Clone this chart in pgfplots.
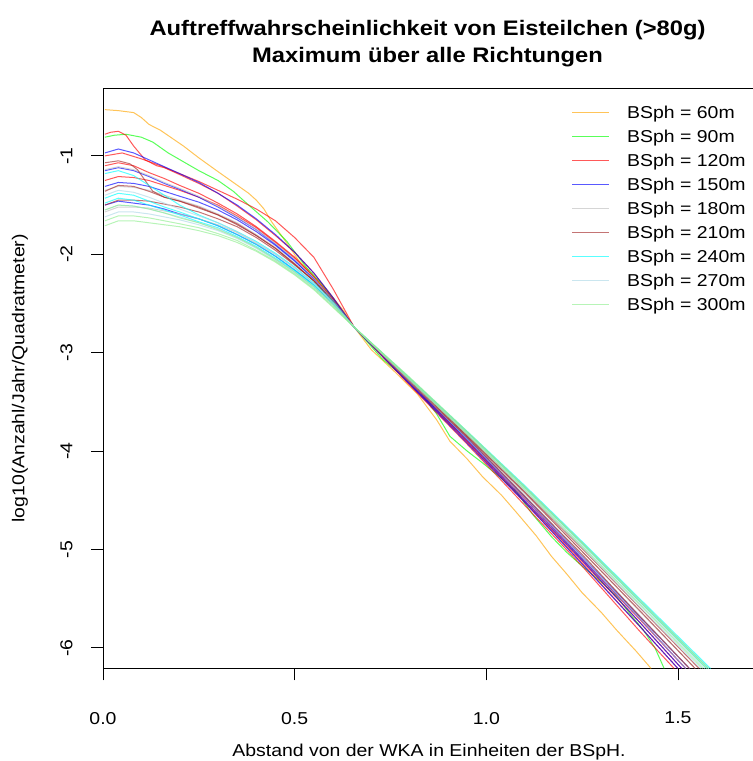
\documentclass[border=0pt]{standalone}
\usepackage{fontspec}
\setmainfont{Liberation Sans}[FakeStretch=1.13]
\usepackage{pgfplots}
\pgfplotsset{compat=1.18}

\definecolor{cOrange}{HTML}{FFA500}
\definecolor{cGreen}{HTML}{00FF00}
\definecolor{cRed}{HTML}{FF0000}
\definecolor{cBlue}{HTML}{0000FF}
\definecolor{cGray}{HTML}{BEBEBE}
\definecolor{cBrown}{HTML}{A52A2A}
\definecolor{cCyan}{HTML}{00FFFF}
\definecolor{cLBlue}{HTML}{ADD8E6}
\definecolor{cLGreen}{HTML}{90EE90}

\newcommand{\rfont}{\fontsize{17.2}{20}\selectfont}

\begin{document}
\begin{tikzpicture}
\begin{axis}[
  name=ax,
  scale only axis,
  width=652pt, height=580.5pt,
  xmin=0, xmax=1.701, ymin=-6.21, ymax=-0.31,
  axis line style={black, line width=0.8pt},
  xtick align=outside, ytick align=outside,
  major tick length=12pt,
  every tick/.style={draw=black, line width=0.8pt},
  xtick pos=bottom, ytick pos=left,
  xtick={0,0.5,1,1.5}, xticklabels={0.0,0.5,1.0,1.5},
  ytick={-6,-5,-4,-3,-2,-1}, yticklabels={-6,-5,-4,-3,-2,-1},
  tick label style={font=\rfont},
  xticklabel shift={28pt},
  yticklabel shift={15pt},
  yticklabel style={rotate=90, anchor=south},
  label style={font=\rfont},
  xlabel={Abstand von der WKA in Einheiten der BSpH.},
  ylabel={log10(Anzahl/Jahr/Quadratmeter)},
  xlabel style={at={(axis description cs:0.5,-0.1446)}, anchor=center},
  ylabel style={at={(axis description cs:-0.1273,0.5)}, anchor=center},
  legend cell align=left,
  legend style={draw=none, fill=none, inner sep=0pt, row sep=0pt,
    at={(axis description cs:0.7186,0.9793)}, anchor=north west,
    font=\rfont, nodes={inner sep=0pt, text height=18pt, text depth=6pt}},
  legend image code/.code={\draw[#1] (0pt,0pt) -- (36.5pt,0pt); \path (54.5pt,0pt);},
  every axis plot/.append style={no markers, line width=1pt, draw opacity=0.65},
]

% BSph = 60m
\addplot[cOrange] coordinates {(0.005,-0.53)(0.04,-0.54)(0.08,-0.56)(0.10,-0.61)(0.12,-0.68)(0.15,-0.74)(0.18,-0.82)(0.21,-0.90)(0.25,-1.02)(0.3,-1.16)(0.34,-1.27)(0.38,-1.38)(0.40,-1.45)(0.42,-1.54)(0.44,-1.67)(0.48,-1.89)(0.51,-2.06)(0.545,-2.20)(0.575,-2.33)(0.60,-2.44)(0.627,-2.57)(0.655,-2.74)(0.70,-2.97)(0.76,-3.19)(0.82,-3.42)(0.87,-3.68)(0.905,-3.90)(0.95,-4.08)(0.99,-4.26)(1.04,-4.45)(1.08,-4.63)(1.13,-4.86)(1.17,-5.07)(1.21,-5.25)(1.25,-5.44)(1.30,-5.64)(1.34,-5.82)(1.39,-6.03)(1.43,-6.21)};
\addlegendentry{BSph = 60m}

% BSph = 90m
\addplot[cGreen] coordinates {(0.005,-0.81)(0.03,-0.79)(0.06,-0.78)(0.10,-0.81)(0.13,-0.86)(0.17,-0.97)(0.21,-1.06)(0.25,-1.15)(0.30,-1.25)(0.34,-1.36)(0.38,-1.50)(0.43,-1.67)(0.48,-1.87)(0.53,-2.13)(0.57,-2.30)(0.61,-2.50)(0.655,-2.74)(0.73,-3.07)(0.82,-3.36)(0.87,-3.62)(0.905,-3.85)(0.95,-4.00)(0.99,-4.12)(1.04,-4.28)(1.08,-4.42)(1.12,-4.64)(1.17,-4.87)(1.21,-5.03)(1.25,-5.17)(1.30,-5.33)(1.34,-5.48)(1.38,-5.68)(1.41,-5.82)(1.44,-6.00)(1.464,-6.21)};
\addlegendentry{BSph = 90m}

% BSph = 120m
\addplot[cRed] coordinates {(0.005,-0.78)(0.02,-0.76)(0.04,-0.75)(0.06,-0.79)(0.08,-0.90)(0.11,-1.04)(0.14,-1.10)(0.16,-1.12)(0.2,-1.19)(0.25,-1.28)(0.3,-1.38)(0.35,-1.51)(0.4,-1.65)(0.45,-1.81)(0.5,-1.98)(0.55,-2.19)(0.6,-2.44)(0.655,-2.74)(0.8,-3.33)(0.95,-3.93)(1.1,-4.55)(1.25,-5.17)(1.4,-5.83)(1.49,-6.21)};
\addlegendentry{BSph = 120m}
\addplot[cRed, forget plot] coordinates {(0.005,-1.00)(0.05,-0.97)(0.1,-1.03)(0.15,-1.10)(0.2,-1.18)(0.25,-1.26)(0.3,-1.35)(0.35,-1.44)(0.4,-1.54)(0.45,-1.66)(0.5,-1.83)(0.55,-2.03)(0.6,-2.35)(0.627,-2.54)(0.655,-2.74)(0.8,-3.32)(0.95,-3.91)(1.1,-4.52)(1.25,-5.14)(1.4,-5.78)(1.50,-6.21)};
\addplot[cRed, forget plot] coordinates {(0.005,-1.10)(0.04,-1.07)(0.08,-1.10)(0.12,-1.17)(0.16,-1.23)(0.2,-1.30)(0.25,-1.38)(0.3,-1.48)(0.35,-1.59)(0.4,-1.72)(0.45,-1.87)(0.5,-2.03)(0.55,-2.23)(0.6,-2.46)(0.655,-2.74)(0.8,-3.31)(0.95,-3.90)(1.1,-4.51)(1.25,-5.12)(1.4,-5.74)(1.51,-6.21)};
\addplot[cRed, forget plot] coordinates {(0.005,-1.25)(0.04,-1.21)(0.08,-1.22)(0.12,-1.25)(0.16,-1.30)(0.2,-1.35)(0.25,-1.42)(0.3,-1.50)(0.35,-1.61)(0.4,-1.73)(0.45,-1.88)(0.5,-2.04)(0.55,-2.23)(0.6,-2.46)(0.655,-2.74)(0.8,-3.30)(0.95,-3.89)(1.1,-4.48)(1.25,-5.10)(1.4,-5.71)(1.52,-6.21)};

% BSph = 150m
\addplot[cBlue] coordinates {(0.005,-0.97)(0.04,-0.93)(0.08,-0.97)(0.12,-1.04)(0.16,-1.11)(0.2,-1.18)(0.25,-1.27)(0.3,-1.38)(0.35,-1.50)(0.4,-1.64)(0.45,-1.80)(0.5,-1.98)(0.55,-2.19)(0.6,-2.44)(0.655,-2.74)(0.8,-3.32)(0.95,-3.92)(1.1,-4.52)(1.25,-5.15)(1.4,-5.78)(1.50,-6.21)};
\addlegendentry{BSph = 150m}
\addplot[cBlue, forget plot] coordinates {(0.005,-1.15)(0.04,-1.12)(0.08,-1.15)(0.12,-1.21)(0.16,-1.28)(0.2,-1.34)(0.25,-1.42)(0.3,-1.52)(0.35,-1.63)(0.4,-1.75)(0.45,-1.90)(0.5,-2.06)(0.55,-2.25)(0.6,-2.47)(0.655,-2.74)(0.8,-3.31)(0.95,-3.89)(1.1,-4.50)(1.25,-5.11)(1.4,-5.74)(1.51,-6.21)};
\addplot[cBlue, forget plot] coordinates {(0.005,-1.31)(0.04,-1.27)(0.08,-1.28)(0.12,-1.31)(0.16,-1.36)(0.2,-1.41)(0.25,-1.47)(0.3,-1.55)(0.35,-1.65)(0.4,-1.77)(0.45,-1.91)(0.5,-2.07)(0.55,-2.25)(0.6,-2.47)(0.655,-2.74)(0.8,-3.30)(0.95,-3.88)(1.1,-4.47)(1.25,-5.09)(1.4,-5.70)(1.52,-6.21)};
\addplot[cBlue, forget plot] coordinates {(0.005,-1.50)(0.04,-1.46)(0.08,-1.48)(0.12,-1.50)(0.16,-1.54)(0.2,-1.59)(0.25,-1.64)(0.3,-1.71)(0.35,-1.80)(0.4,-1.90)(0.45,-2.02)(0.5,-2.16)(0.55,-2.31)(0.6,-2.50)(0.655,-2.74)(0.8,-3.30)(0.95,-3.87)(1.1,-4.46)(1.25,-5.07)(1.4,-5.68)(1.53,-6.21)};

% BSph = 180m
\addplot[cGray] coordinates {(0.005,-1.14)(0.04,-1.11)(0.08,-1.14)(0.12,-1.20)(0.16,-1.27)(0.2,-1.33)(0.25,-1.41)(0.3,-1.51)(0.35,-1.62)(0.4,-1.75)(0.45,-1.89)(0.5,-2.05)(0.55,-2.24)(0.6,-2.47)(0.655,-2.74)(0.8,-3.29)(0.95,-3.88)(1.1,-4.47)(1.25,-5.08)(1.4,-5.70)(1.52,-6.21)};
\addlegendentry{BSph = 180m}
\addplot[cGray, forget plot] coordinates {(0.005,-1.35)(0.04,-1.31)(0.08,-1.32)(0.12,-1.35)(0.16,-1.40)(0.2,-1.45)(0.25,-1.51)(0.3,-1.59)(0.35,-1.68)(0.4,-1.80)(0.45,-1.93)(0.5,-2.09)(0.55,-2.26)(0.6,-2.48)(0.655,-2.74)(0.8,-3.30)(0.95,-3.86)(1.1,-4.45)(1.25,-5.06)(1.4,-5.67)(1.53,-6.21)};
\addplot[cGray, forget plot] coordinates {(0.005,-1.57)(0.04,-1.52)(0.08,-1.52)(0.12,-1.53)(0.16,-1.56)(0.2,-1.59)(0.25,-1.64)(0.3,-1.70)(0.35,-1.78)(0.4,-1.89)(0.45,-2.00)(0.5,-2.14)(0.55,-2.30)(0.6,-2.49)(0.655,-2.74)(0.8,-3.29)(0.95,-3.85)(1.1,-4.43)(1.25,-5.02)(1.4,-5.63)(1.545,-6.21)};

% BSph = 210m
\addplot[cBrown] coordinates {(0.005,-1.07)(0.04,-1.05)(0.07,-1.08)(0.09,-1.14)(0.11,-1.25)(0.13,-1.36)(0.16,-1.42)(0.2,-1.46)(0.25,-1.52)(0.3,-1.60)(0.35,-1.70)(0.4,-1.81)(0.45,-1.94)(0.5,-2.10)(0.55,-2.27)(0.6,-2.48)(0.655,-2.74)(0.8,-3.30)(0.95,-3.86)(1.1,-4.46)(1.25,-5.05)(1.4,-5.68)(1.53,-6.21)};
\addlegendentry{BSph = 210m}
\addplot[cBrown, forget plot] coordinates {(0.005,-1.36)(0.04,-1.30)(0.08,-1.31)(0.12,-1.36)(0.16,-1.42)(0.2,-1.46)(0.25,-1.53)(0.3,-1.60)(0.35,-1.69)(0.4,-1.81)(0.45,-1.94)(0.5,-2.10)(0.55,-2.27)(0.6,-2.48)(0.655,-2.74)(0.8,-3.28)(0.95,-3.85)(1.1,-4.42)(1.25,-5.02)(1.4,-5.62)(1.545,-6.21)};
\addplot[cBrown, forget plot] coordinates {(0.005,-1.50)(0.04,-1.45)(0.08,-1.45)(0.12,-1.46)(0.16,-1.49)(0.2,-1.52)(0.25,-1.57)(0.3,-1.64)(0.35,-1.72)(0.4,-1.83)(0.45,-1.96)(0.5,-2.11)(0.55,-2.27)(0.6,-2.48)(0.655,-2.74)(0.8,-3.28)(0.95,-3.84)(1.1,-4.41)(1.25,-4.99)(1.4,-5.59)(1.555,-6.21)};

% BSph = 240m
\addplot[cCyan] coordinates {(0.005,-1.18)(0.04,-1.15)(0.08,-1.20)(0.12,-1.30)(0.16,-1.40)(0.2,-1.50)(0.25,-1.60)(0.3,-1.68)(0.35,-1.77)(0.4,-1.87)(0.45,-1.99)(0.5,-2.13)(0.55,-2.29)(0.6,-2.48)(0.655,-2.74)(0.8,-3.27)(0.95,-3.81)(1.1,-4.37)(1.25,-4.94)(1.4,-5.53)(1.575,-6.21)};
\addlegendentry{BSph = 240m}
\addplot[cCyan, forget plot] coordinates {(0.005,-1.43)(0.04,-1.38)(0.08,-1.40)(0.12,-1.46)(0.16,-1.52)(0.2,-1.57)(0.25,-1.64)(0.3,-1.71)(0.35,-1.80)(0.4,-1.90)(0.45,-2.02)(0.5,-2.16)(0.55,-2.31)(0.6,-2.50)(0.655,-2.74)(0.8,-3.26)(0.95,-3.81)(1.1,-4.36)(1.25,-4.93)(1.4,-5.52)(1.58,-6.21)};
\addplot[cCyan, forget plot] coordinates {(0.005,-1.48)(0.04,-1.43)(0.08,-1.45)(0.12,-1.50)(0.16,-1.55)(0.2,-1.60)(0.25,-1.67)(0.3,-1.73)(0.35,-1.82)(0.4,-1.92)(0.45,-2.04)(0.5,-2.17)(0.55,-2.32)(0.6,-2.51)(0.655,-2.74)(0.8,-3.26)(0.95,-3.80)(1.1,-4.35)(1.25,-4.92)(1.4,-5.50)(1.585,-6.21)};

% BSph = 270m
\addplot[cLBlue] coordinates {(0.005,-1.40)(0.04,-1.35)(0.08,-1.37)(0.12,-1.42)(0.16,-1.48)(0.2,-1.54)(0.25,-1.61)(0.3,-1.68)(0.35,-1.77)(0.4,-1.88)(0.45,-2.00)(0.5,-2.14)(0.55,-2.30)(0.6,-2.49)(0.655,-2.74)(0.8,-3.28)(0.95,-3.83)(1.1,-4.40)(1.25,-4.98)(1.4,-5.58)(1.56,-6.21)};
\addlegendentry{BSph = 270m}
\addplot[cLBlue, forget plot] coordinates {(0.005,-1.55)(0.04,-1.50)(0.08,-1.51)(0.12,-1.54)(0.16,-1.58)(0.2,-1.62)(0.25,-1.68)(0.3,-1.74)(0.35,-1.83)(0.4,-1.93)(0.45,-2.05)(0.5,-2.18)(0.55,-2.33)(0.6,-2.51)(0.655,-2.74)(0.8,-3.27)(0.95,-3.82)(1.1,-4.38)(1.25,-4.96)(1.4,-5.55)(1.57,-6.21)};
\addplot[cLBlue, forget plot] coordinates {(0.005,-1.62)(0.04,-1.57)(0.08,-1.57)(0.12,-1.59)(0.16,-1.62)(0.2,-1.65)(0.25,-1.70)(0.3,-1.76)(0.35,-1.84)(0.4,-1.94)(0.45,-2.06)(0.5,-2.19)(0.55,-2.34)(0.6,-2.52)(0.655,-2.74)(0.8,-3.26)(0.95,-3.81)(1.1,-4.36)(1.25,-4.93)(1.4,-5.52)(1.58,-6.21)};

% BSph = 300m
\addplot[cLGreen] coordinates {(0.005,-1.55)(0.04,-1.50)(0.08,-1.51)(0.12,-1.54)(0.16,-1.58)(0.2,-1.63)(0.25,-1.68)(0.3,-1.75)(0.35,-1.83)(0.4,-1.93)(0.45,-2.05)(0.5,-2.18)(0.55,-2.33)(0.6,-2.51)(0.655,-2.74)(0.8,-3.27)(0.95,-3.83)(1.1,-4.39)(1.25,-4.97)(1.4,-5.56)(1.565,-6.21)};
\addlegendentry{BSph = 300m}
\addplot[cLGreen, forget plot] coordinates {(0.005,-1.66)(0.04,-1.61)(0.08,-1.61)(0.12,-1.63)(0.16,-1.66)(0.2,-1.69)(0.25,-1.73)(0.3,-1.79)(0.35,-1.86)(0.4,-1.96)(0.45,-2.07)(0.5,-2.20)(0.55,-2.35)(0.6,-2.53)(0.655,-2.74)(0.8,-3.26)(0.95,-3.81)(1.1,-4.37)(1.25,-4.94)(1.4,-5.53)(1.575,-6.21)};
\addplot[cLGreen, forget plot] coordinates {(0.005,-1.71)(0.04,-1.66)(0.08,-1.66)(0.12,-1.68)(0.16,-1.70)(0.2,-1.72)(0.25,-1.76)(0.3,-1.81)(0.35,-1.88)(0.4,-1.97)(0.45,-2.08)(0.5,-2.21)(0.55,-2.36)(0.6,-2.54)(0.655,-2.74)(0.8,-3.25)(0.95,-3.80)(1.1,-4.36)(1.25,-4.93)(1.4,-5.51)(1.58,-6.21)};

\end{axis}
\node[font=\fontsize{21}{25}\selectfont\bfseries, anchor=base] at ([xshift=-1.5pt,yshift=52pt]ax.north) {Auftreffwahrscheinlichkeit von Eisteilchen (>80g)};
\node[font=\fontsize{21}{25}\selectfont\bfseries, anchor=base] at ([xshift=-1.5pt,yshift=25pt]ax.north) {Maximum über alle Richtungen};
\pgfresetboundingbox
\path ([shift={(-103pt,-92.5pt)}]ax.south west) rectangle ([shift={(-3pt,88pt)}]ax.north east);
\end{tikzpicture}
\end{document}
